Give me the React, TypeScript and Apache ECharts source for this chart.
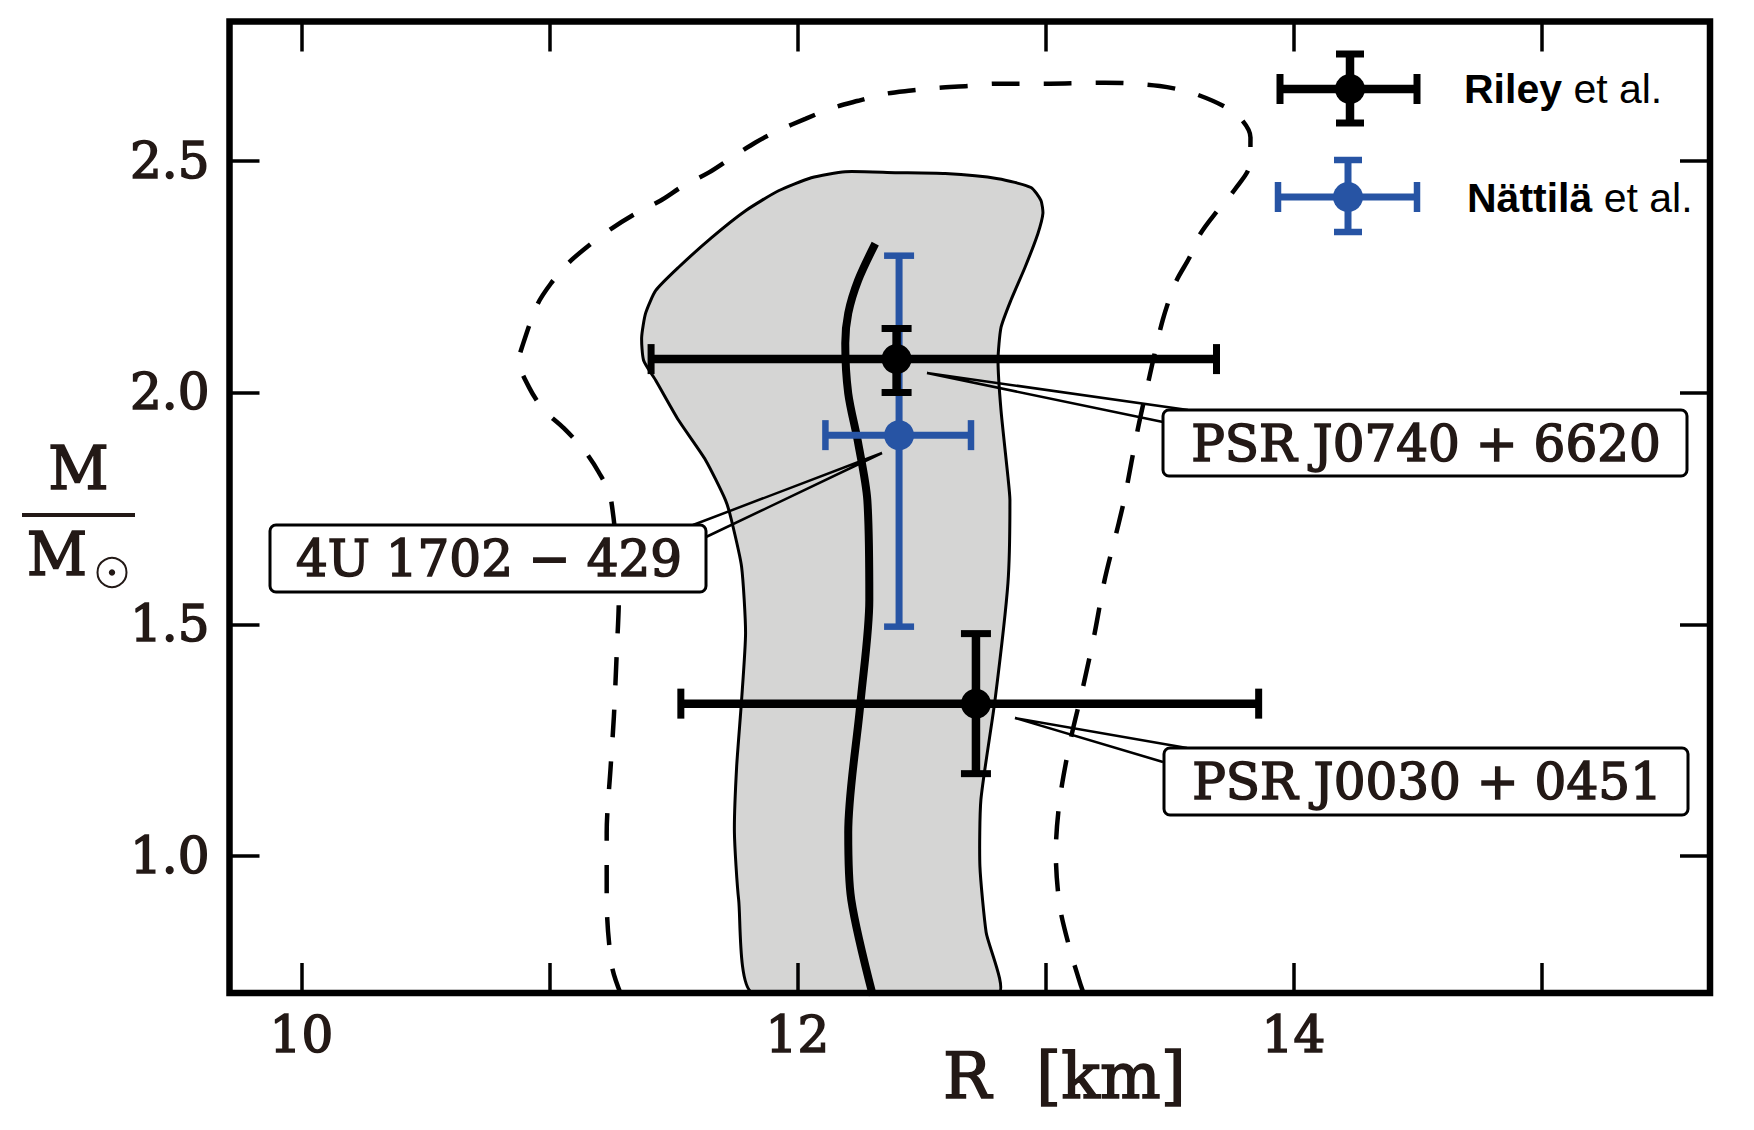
import React, { useEffect, useRef } from "react";
import * as echarts from "echarts";

// ---- axis ranges and ticks ----
const rMin = 9.71;
const rMax = 15.68;
const mMin = 0.705;
const mMax = 2.8;
const rTicks = [10, 11, 12, 13, 14, 15];
const rTickLabels = [10, 12, 14];
const mTicks = [1.0, 1.5, 2.0, 2.5];

// ---- grey band (closed outline) ----
const bandR = [11.82, 11.763, 11.746, 11.755, 11.775, 11.791, 11.775, 11.734, 11.71, 11.63, 11.521, 11.429, 11.38, 11.372, 11.388, 11.429, 11.521, 11.654, 11.791, 11.924, 12.056, 12.193, 12.394, 12.596, 12.809, 12.942, 12.982, 12.99, 12.97, 12.918, 12.861, 12.821, 12.809, 12.821, 12.849, 12.857, 12.849, 12.797, 12.74, 12.736, 12.761, 12.81];
const bandM = [0.705, 0.907, 1.051, 1.193, 1.337, 1.482, 1.624, 1.725, 1.768, 1.854, 1.94, 2.026, 2.069, 2.119, 2.171, 2.22, 2.27, 2.334, 2.392, 2.435, 2.463, 2.476, 2.474, 2.472, 2.461, 2.442, 2.414, 2.386, 2.343, 2.27, 2.199, 2.14, 2.069, 1.962, 1.818, 1.768, 1.589, 1.337, 1.122, 0.978, 0.836, 0.705];

// ---- dashed contour ----
const dashR = [11.29, 11.252, 11.231, 11.231, 11.247, 11.26, 11.272, 11.28, 11.247, 11.199, 11.139, 11.058, 10.978, 10.918, 10.877, 10.889, 10.95, 11.006, 11.078, 11.159, 11.252, 11.348, 11.449, 11.541, 11.642, 11.734, 11.831, 11.924, 12.032, 12.133, 12.245, 12.354, 12.459, 12.567, 12.688, 12.797, 13.018, 13.239, 13.461, 13.614, 13.767, 13.827, 13.823, 13.767, 13.694, 13.626, 13.581, 13.525, 13.473, 13.421, 13.372, 13.32, 13.292, 13.239, 13.199, 13.151, 13.099, 13.058, 13.042, 13.058, 13.099, 13.139, 13.157];
const dashM = [0.7, 0.763, 0.907, 1.051, 1.193, 1.301, 1.445, 1.559, 1.774, 1.828, 1.876, 1.923, 1.962, 2.011, 2.069, 2.097, 2.188, 2.235, 2.28, 2.317, 2.354, 2.386, 2.414, 2.446, 2.474, 2.506, 2.539, 2.565, 2.59, 2.612, 2.629, 2.644, 2.651, 2.657, 2.661, 2.666, 2.666, 2.668, 2.661, 2.642, 2.601, 2.55, 2.489, 2.44, 2.392, 2.343, 2.291, 2.237, 2.156, 2.037, 1.919, 1.774, 1.71, 1.596, 1.482, 1.363, 1.245, 1.122, 1.008, 0.892, 0.799, 0.728, 0.7];

// ---- thick central curve ----
const midR = [12.314, 12.245, 12.205, 12.193, 12.205, 12.245, 12.282, 12.29, 12.254, 12.205, 12.217, 12.304];
const midM = [2.321, 2.242, 2.171, 2.106, 1.998, 1.891, 1.768, 1.553, 1.329, 1.051, 0.907, 0.7];

// ---- measurements (Riley et al.) ----
const rileyR = [12.4, 12.72];
const rileyM = [2.072, 1.329];
const rileyRLo = [11.41, 11.53];
const rileyRHi = [13.69, 13.86];
const rileyMLo = [2.0, 1.178];
const rileyMHi = [2.138, 1.48];

// ---- measurements (Nättilä et al.) ----
const nattR = [12.41];
const nattM = [1.908];
const nattRLo = [12.113];
const nattRHi = [12.7];
const nattMLo = [1.495];
const nattMHi = [2.295];

const BLUE = "#2754a4";
const INK = "#231916";

const makeErrRender = (color: string, lw: number, capLw: number, capHalf: number) =>
  (params: any, api: any) => {
    const x = api.value(0), y = api.value(1);
    const xl = api.value(2), xh = api.value(3), yl = api.value(4), yh = api.value(5);
    const l = api.coord([xl, y]);
    const r = api.coord([xh, y]);
    const b = api.coord([x, yl]);
    const t = api.coord([x, yh]);
    const st = { stroke: color, lineWidth: lw, fill: null };
    const cs = { stroke: color, lineWidth: capLw, fill: null };
    return {
      type: "group",
      children: [
        { type: "line", shape: { x1: l[0], y1: l[1], x2: r[0], y2: r[1] }, style: st },
        { type: "line", shape: { x1: b[0], y1: b[1], x2: t[0], y2: t[1] }, style: st },
        { type: "line", shape: { x1: l[0], y1: l[1] - capHalf, x2: l[0], y2: l[1] + capHalf }, style: cs },
        { type: "line", shape: { x1: r[0], y1: r[1] - capHalf, x2: r[0], y2: r[1] + capHalf }, style: cs },
        { type: "line", shape: { x1: b[0] - capHalf, y1: b[1], x2: b[0] + capHalf, y2: b[1] }, style: cs },
        { type: "line", shape: { x1: t[0] - capHalf, y1: t[1], x2: t[0] + capHalf, y2: t[1] }, style: cs },
      ],
    };
  };

const legendBar = (cx: number, cy: number, x1: number, x2: number, y1: number, y2: number, color: string, lw: number, capLw: number, z: number) => [
  { type: "line", z, shape: { x1, y1: cy, x2, y2: cy }, style: { stroke: color, lineWidth: lw } },
  { type: "line", z, shape: { x1: cx, y1, x2: cx, y2 }, style: { stroke: color, lineWidth: lw } },
  { type: "line", z, shape: { x1, y1: cy - 15, x2: x1, y2: cy + 15 }, style: { stroke: color, lineWidth: capLw } },
  { type: "line", z, shape: { x1: x2, y1: cy - 15, x2, y2: cy + 15 }, style: { stroke: color, lineWidth: capLw } },
  { type: "line", z, shape: { x1: cx - 14, y1, x2: cx + 14, y2: y1 }, style: { stroke: color, lineWidth: capLw } },
  { type: "line", z, shape: { x1: cx - 14, y1: y2, x2: cx + 14, y2 }, style: { stroke: color, lineWidth: capLw } },
  { type: "circle", z, shape: { cx, cy, r: 15 }, style: { fill: color } },
];

export default function App() {
  const ref = useRef<HTMLDivElement>(null);
  useEffect(() => {
    const chart = echarts.init(ref.current!, null, { renderer: "svg" });
    const gl = 229.5, gt = 21.5, gr = 44, gb = 137;
    const gw = 1754 - gl - gr, gh = 1130 - gt - gb;

    const tickStyle = { color: "#000", width: 3.5 };
    const xAxisBase = {
      type: "value", min: rMin, max: rMax, z: 50,
      axisLine: { show: false }, splitLine: { show: false },
      axisTick: { show: true, inside: true, length: 30, customValues: rTicks, lineStyle: tickStyle },
    };
    const yAxisBase = {
      type: "value", min: mMin, max: mMax, z: 50,
      axisLine: { show: false }, splitLine: { show: false },
      axisTick: { show: true, inside: true, length: 30, customValues: mTicks, lineStyle: tickStyle },
    };

    const rileyData = rileyR.map((r, i) => [r, rileyM[i], rileyRLo[i], rileyRHi[i], rileyMLo[i], rileyMHi[i]]);
    const nattData = nattR.map((r, i) => [r, nattM[i], nattRLo[i], nattRHi[i], nattMLo[i], nattMHi[i]]);

    const boxStyle = { fill: "#fff", stroke: "#000", lineWidth: 3 };
    const serif = (size: number) => ({
      fontFamily: "DejaVu Serif", fontSize: size, fill: INK, stroke: INK, lineWidth: 1.6,
      align: "center", verticalAlign: "middle",
    });
    const wedgeStyle = { stroke: "#000", lineWidth: 2.5, fill: null };
    const labelCommon = {
      fontFamily: "DejaVu Serif", fontSize: 50, color: INK,
      textBorderColor: INK, textBorderWidth: 1.6,
    };

    const option: any = {
      animation: false,
      backgroundColor: "#fff",
      grid: { left: gl, top: gt, right: gr, bottom: gb, show: false },
      xAxis: [
        {
          ...xAxisBase, position: "bottom",
          axisLabel: { ...labelCommon, customValues: rTickLabels, margin: 17 },
        },
        { ...xAxisBase, position: "top", axisLabel: { show: false } },
      ],
      yAxis: [
        {
          ...yAxisBase, position: "left",
          axisLabel: {
            ...labelCommon, customValues: mTicks, margin: 20,
            formatter: (v: number) => v.toFixed(1),
          },
        },
        { ...yAxisBase, position: "right", axisLabel: { show: false } },
      ],
      series: [
        {
          type: "custom", name: "band", clip: true, z: 1,
          data: [0],
          renderItem: (params: any, api: any) => ({
            type: "polygon",
            shape: { points: bandR.map((r, i) => api.coord([r, bandM[i]])), smooth: 0.2 },
            style: { fill: "#d5d5d4", stroke: "#000", lineWidth: 3 },
          }),
        },
        {
          type: "line", name: "dashed", showSymbol: false, smooth: 0.3, z: 2, clip: true,
          data: dashR.map((r, i) => [r, dashM[i]]),
          lineStyle: { color: "#000", width: 4.5, type: [28, 24] },
        },
        {
          type: "line", name: "central", showSymbol: false, smooth: 0.3, z: 3, clip: true,
          data: midR.map((r, i) => [r, midM[i]]),
          lineStyle: { color: "#000", width: 8 },
        },
        {
          type: "custom", name: "Nättilä bars", z: 4, data: nattData,
          renderItem: makeErrRender(BLUE, 7, 6.5, 15),
        },
        {
          type: "scatter", name: "Nättilä", z: 5, symbolSize: 30,
          data: nattR.map((r, i) => [r, nattM[i]]), itemStyle: { color: BLUE, opacity: 1 },
        },
        {
          type: "custom", name: "Riley bars", z: 6, data: rileyData,
          renderItem: makeErrRender("#000", 8.5, 7, 15),
        },
        {
          type: "scatter", name: "Riley", z: 7, symbolSize: 30,
          data: rileyR.map((r, i) => [r, rileyM[i]]), itemStyle: { color: "#000", opacity: 1 },
        },
      ],
      graphic: {
        elements: [
          // frame
          { type: "rect", z: 120, shape: { x: gl, y: gt, width: gw, height: gh }, style: { fill: null, stroke: "#000", lineWidth: 6.5 } },
          // wedges
          { type: "polyline", z: 100, shape: { points: [[1188, 410], [927, 373], [1163, 422]] }, style: wedgeStyle },
          { type: "polyline", z: 100, shape: { points: [[1187, 748], [1015, 718], [1163, 762]] }, style: wedgeStyle },
          { type: "polyline", z: 100, shape: { points: [[693, 525], [882, 453], [706, 537]] }, style: wedgeStyle },
          // boxes
          { type: "rect", z: 101, shape: { x: 1163, y: 410, width: 524, height: 66, r: 6 }, style: boxStyle },
          { type: "text", z: 102, x: 1426, y: 444, style: { ...serif(50), text: "PSR J0740 + 6620" } },
          { type: "rect", z: 101, shape: { x: 1164, y: 748, width: 524, height: 67, r: 6 }, style: boxStyle },
          { type: "text", z: 102, x: 1427, y: 782, style: { ...serif(50), text: "PSR J0030 + 0451" } },
          { type: "rect", z: 101, shape: { x: 270, y: 525, width: 436, height: 67, r: 6 }, style: boxStyle },
          { type: "text", z: 102, x: 489, y: 559, style: { ...serif(50), text: "4U 1702 − 429" } },
          // legend
          ...legendBar(1350, 89, 1280, 1417, 54, 123, "#000", 8.5, 7, 110),
          ...legendBar(1348, 197, 1278, 1417, 160, 232, BLUE, 7, 6.5, 110),
          {
            type: "text", z: 110, x: 1464, y: 89,
            style: {
              text: "{b|Riley} et al.", fontFamily: "Liberation Sans", fontSize: 41, fill: "#000",
              align: "left", verticalAlign: "middle",
              rich: { b: { fontFamily: "Liberation Sans", fontSize: 41, fontWeight: "bold", fill: "#000" } },
            },
          },
          {
            type: "text", z: 110, x: 1467, y: 198,
            style: {
              text: "{b|Nättilä} et al.", fontFamily: "Liberation Sans", fontSize: 41, fill: "#000",
              align: "left", verticalAlign: "middle",
              rich: { b: { fontFamily: "Liberation Sans", fontSize: 41, fontWeight: "bold", fill: "#000" } },
            },
          },
          // x axis title
          { type: "text", z: 110, x: 967, y: 1076, style: { ...serif(64), text: "R" } },
          { type: "text", z: 110, x: 1111, y: 1076, style: { ...serif(64), text: "[km]" } },
          // y axis title
          { type: "text", z: 110, x: 78.5, y: 468, style: { ...serif(59), text: "M" } },
          { type: "line", z: 110, shape: { x1: 22, y1: 515, x2: 135, y2: 515 }, style: { stroke: INK, lineWidth: 4 } },
          { type: "text", z: 110, x: 57, y: 554, style: { ...serif(59), text: "M" } },
          { type: "circle", z: 110, shape: { cx: 112, cy: 572.5, r: 14.5 }, style: { fill: null, stroke: INK, lineWidth: 2 } },
          { type: "circle", z: 110, shape: { cx: 112, cy: 572.5, r: 3.2 }, style: { fill: INK } },
        ],
      },
    };
    chart.setOption(option);
    return () => chart.dispose();
  }, []);
  return (
    <div
      ref={ref}
      style={{ position: "fixed", left: 0, top: 0, width: 1754, height: 1130, background: "#fff" }}
    />
  );
}
